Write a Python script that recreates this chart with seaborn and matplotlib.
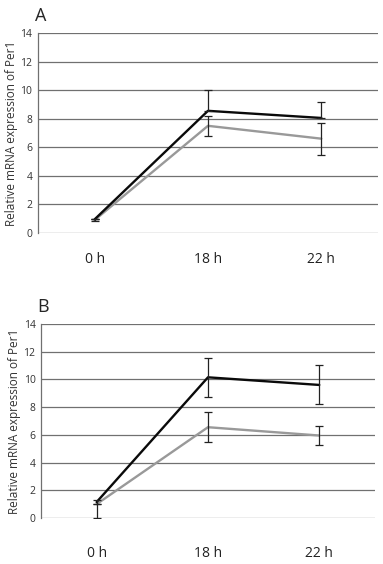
import pandas as pd
import matplotlib
matplotlib.use("Agg")
import matplotlib.pyplot as plt
import seaborn as sns

times = ["0 h", "18 h", "22 h"]

# panel A
a_black = [0.95, 8.55, 8.05]
a_black_lo = [0.0, 0.0, 0.0]
a_black_hi = [0.05, 1.45, 1.15]
a_grey = [0.9, 7.5, 6.6]
a_grey_lo = [0.05, 0.7, 1.13]
a_grey_hi = [0.05, 0.7, 1.13]

# panel B
b_black = [1.15, 10.15, 9.6]
b_black_lo = [0.12, 1.42, 1.38]
b_black_hi = [0.12, 1.4, 1.45]
b_grey = [1.0, 6.55, 5.95]
b_grey_lo = [1.0, 1.07, 0.72]
b_grey_hi = [0.0, 1.08, 0.68]

sns.set_style("white")
plt.rcParams["font.family"] = ["Open Sans", "DejaVu Sans"]

fig = plt.figure(figsize=(3.83, 5.64), dpi=100)
ax_a = fig.add_axes([0.099, 0.587, 0.888, 0.3545])
ax_b = fig.add_axes([0.107, 0.0816, 0.872, 0.344])

panels = [
    (ax_a, "A", 14, a_black, a_black_lo, a_black_hi, a_grey, a_grey_lo, a_grey_hi),
    (ax_b, "B", 20, b_black, b_black_lo, b_black_hi, b_grey, b_grey_lo, b_grey_hi),
]

for ax, letter, xpad, bk, bk_lo, bk_hi, gr, gr_lo, gr_hi in panels:
    df = pd.DataFrame({
        "time": times * 2,
        "value": bk + gr,
        "group": ["black"] * 3 + ["grey"] * 3,
    })
    sns.lineplot(
        data=df, x="time", y="value", hue="group",
        palette={"black": "#0a0a0a", "grey": "#999999"},
        hue_order=["grey", "black"],
        linewidth=1.7, legend=False, sort=False, ax=ax,
    )
    xs = range(len(times))
    ax.errorbar(xs, gr, yerr=[gr_lo, gr_hi], fmt="none",
                ecolor="#222222", elinewidth=0.9, capsize=3, capthick=0.9)
    ax.errorbar(xs, bk, yerr=[bk_lo, bk_hi], fmt="none",
                ecolor="#222222", elinewidth=0.9, capsize=3, capthick=0.9)

    ax.set_xlim(-0.5, 2.5)
    ax.set_ylim(0, 14)
    ax.set_yticks(range(0, 15, 2))
    ax.yaxis.grid(True, color="#707070", linewidth=0.9)
    ax.set_axisbelow(True)
    for side in ["top", "right", "bottom"]:
        ax.spines[side].set_visible(False)
    ax.spines["left"].set_color("#707070")
    ax.spines["left"].set_linewidth(0.9)
    ax.tick_params(axis="y", length=0, pad=4, labelsize=7.5, labelcolor="#333333")
    ax.tick_params(axis="x", length=0, pad=xpad, labelsize=10, labelcolor="#222222")
    ax.set_xlabel("")
    ax.set_ylabel("Relative mRNA expression of Per1", fontsize=8.5, color="#333333", labelpad=2)
    ax.text(-0.01, 1.04, letter, transform=ax.transAxes, fontsize=13, ha="left", va="bottom")

fig.savefig("out.png", dpi=100)
